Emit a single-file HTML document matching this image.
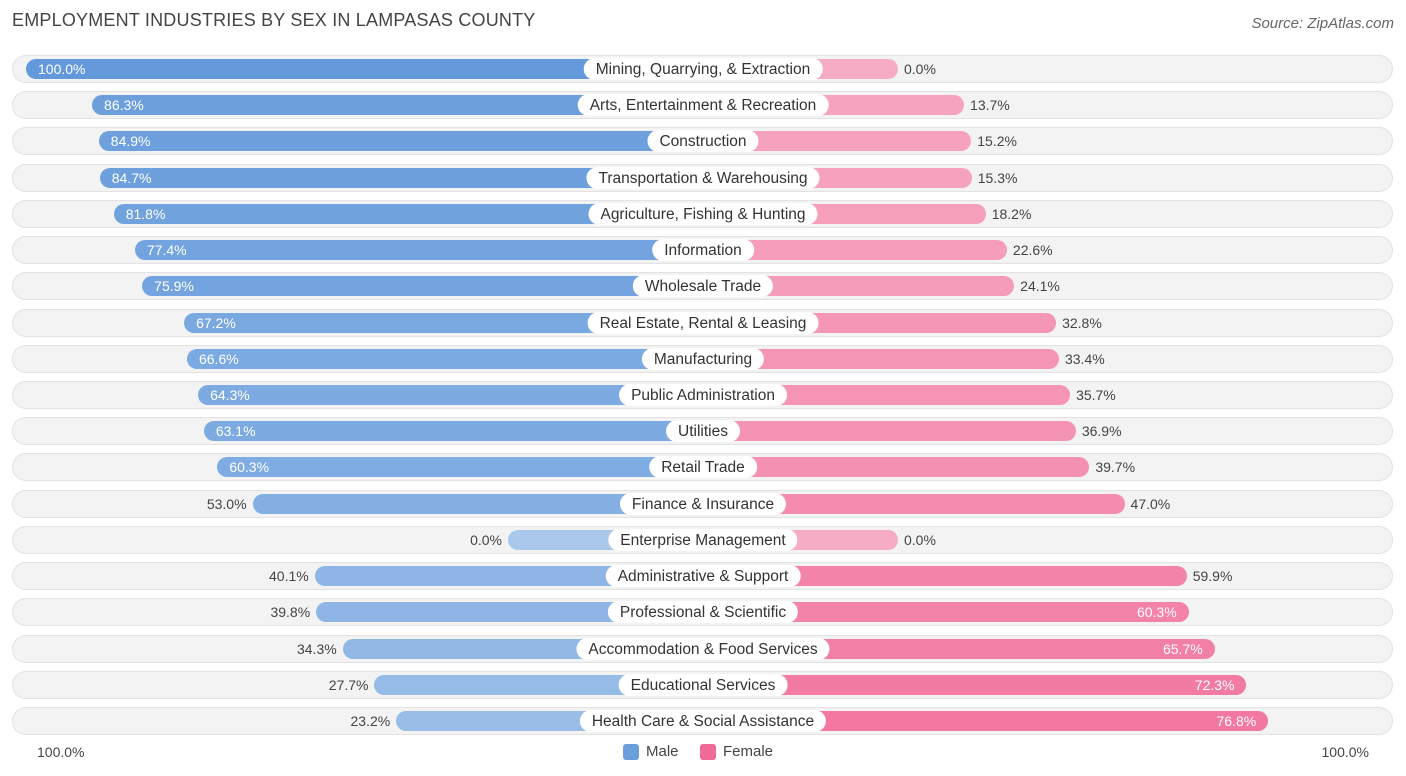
<!DOCTYPE html>
<html><head><meta charset="utf-8">
<style>
body{margin:0;width:1406px;height:776px;background:#fff;font-family:"Liberation Sans",sans-serif;position:relative;overflow:hidden}
.t{position:absolute;left:12px;top:10px;font-size:18px;color:#444;letter-spacing:0.2px}
.src{position:absolute;right:12px;top:15px;font-size:15px;color:#666;font-style:italic}
.row{position:absolute;left:12px;width:1381px;height:28px;border-radius:14px;background:#f3f3f3;box-shadow:0 0 0 1px #e2e2e2 inset}
.bar{position:absolute;height:20px;border-radius:10px}
.lab{position:absolute;height:22px;line-height:23px;padding:0 12px;background:#fff;border-radius:11px;font-size:15.5px;color:#333;white-space:nowrap;transform:translateX(-50%)}
.v{position:absolute;font-size:14px;line-height:21px;white-space:nowrap}
.ax{position:absolute;top:744px;font-size:14px;color:#444}
.leg{position:absolute;top:743px;font-size:15px;color:#444;display:flex;align-items:center}
.sw{width:16px;height:16px;border-radius:3px;margin-right:7px}
</style></head><body>
<div class="t">EMPLOYMENT INDUSTRIES BY SEX IN LAMPASAS COUNTY</div>
<div class="src">Source: ZipAtlas.com</div>
<div id="chart"></div>
<div class="ax" style="left:37px">100.0%</div>
<div class="ax" style="right:37px">100.0%</div>
<div class="leg" style="left:623px"><div class="sw" style="background:#6a9fdc"></div>Male</div>
<div class="leg" style="left:700px"><div class="sw" style="background:#f06b98"></div>Female</div>
<script>
const categories=["Mining, Quarrying, & Extraction","Arts, Entertainment & Recreation","Construction","Transportation & Warehousing","Agriculture, Fishing & Hunting","Information","Wholesale Trade","Real Estate, Rental & Leasing","Manufacturing","Public Administration","Utilities","Retail Trade","Finance & Insurance","Enterprise Management","Administrative & Support","Professional & Scientific","Accommodation & Food Services","Educational Services","Health Care & Social Assistance"];
const maleValues=[100.0,86.3,84.9,84.7,81.8,77.4,75.9,67.2,66.6,64.3,63.1,60.3,53.0,0.0,40.1,39.8,34.3,27.7,23.2];
const femaleValues=[0.0,13.7,15.2,15.3,18.2,22.6,24.1,32.8,33.4,35.7,36.9,39.7,47.0,0.0,59.9,60.3,65.7,72.3,76.8];
const cx=703, base=195, k=4.82, y0=69, dy=36.22;
function px(v){return base+v*k;}
function mix(a,b,t){return 'rgb('+a.map((x,i)=>Math.round(x+(b[i]-x)*t)).join(',')+')';}
const chart=document.getElementById('chart');
categories.forEach((c,i)=>{
  const y=y0+i*dy;
  const r=document.createElement('div');r.className='row';r.style.top=(y-14)+'px';
  
  
  chart.appendChild(r);
  const m=maleValues[i], f=femaleValues[i];
  const mw=px(m), fw=px(f);
  const mb=document.createElement('div');mb.className='bar';
  mb.style.left=(cx-mw)+'px';mb.style.width=mw+'px';mb.style.top=(y-10)+'px';
  mb.style.background=mix([170,200,236],[99,153,219],m/100);
  
  
  chart.appendChild(mb);
  const fb=document.createElement('div');fb.className='bar';
  fb.style.left=cx+'px';fb.style.width=fw+'px';fb.style.top=(y-10)+'px';
  fb.style.background=mix([247,172,197],[240,104,150],f/100);
  
  
  chart.appendChild(fb);
  const l=document.createElement('div');l.className='lab';l.textContent=c;
  l.style.left=cx+'px';l.style.top=(y-11)+'px';
  
  
  chart.appendChild(l);
  const mv=document.createElement('div');mv.className='v';mv.textContent=m.toFixed(1)+'%';mv.style.top=(y-10)+'px';
  if(m>=60){mv.style.left=(cx-mw+12)+'px';mv.style.color='#fff';}
  else{mv.style.right=(1406-(cx-mw)+6)+'px';mv.style.color='#444';}
  
  
  chart.appendChild(mv);
  const fv=document.createElement('div');fv.className='v';fv.textContent=f.toFixed(1)+'%';fv.style.top=(y-10)+'px';
  if(f>=60){fv.style.right=(1406-(cx+fw)+12)+'px';fv.style.color='#fff';}
  else{fv.style.left=(cx+fw+6)+'px';fv.style.color='#444';}
  
  
  chart.appendChild(fv);
});
</script>
</body></html>
